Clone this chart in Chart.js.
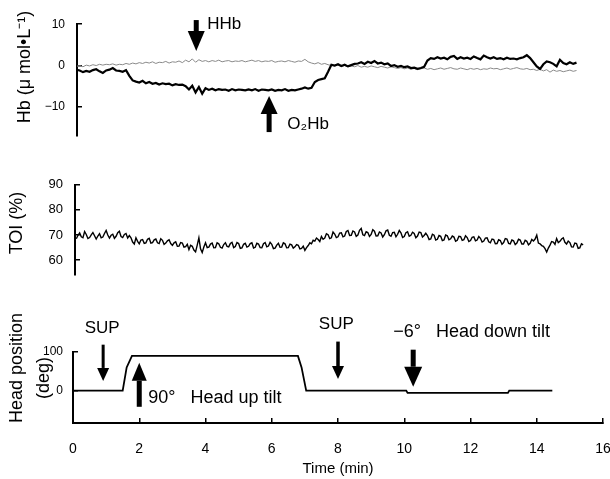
<!DOCTYPE html>
<html>
<head>
<meta charset="utf-8">
<title>Hb, TOI and head position</title>
<script src="https://cdn.jsdelivr.net/npm/chart.js@4.4.1/dist/chart.umd.min.js"></script>
<style>
  html, body { margin: 0; padding: 0; background: #fff; }
  #wrap { position: relative; width: 610px; height: 479px; }
  canvas { position: absolute; left: 0; }
</style>
</head>
<body>
<div id="wrap">
  <canvas id="hbChart" width="610" height="160" style="top:0"></canvas>
  <canvas id="toiChart" width="610" height="140" style="top:160px"></canvas>
  <canvas id="tiltChart" width="610" height="179" style="top:300px"></canvas>
</div>
<script>
// sample grid of the recorded traces (min)
const hbStart = 0.1, hbStep = 0.1;
const toiStart = 0.1, toiStep = 0.05;

// O2Hb, umol/L (thick trace)
const o2hbValues = [
  -1.0, -1.2, -1.6, -1.3, -1.5, -1.1, -0.9, -1.4, -1.8, -1.2,
  -1.0, -0.6, -1.2, -1.3, -1.5, -1.1, -2.5, -3.6,
  -3.9, -4.1, -3.7, -4.3, -4.0, -4.4, -4.2, -4.6, -4.3, -4.5, -4.4, -4.8, -4.5, -4.7, -4.6,
  -5.0, -5.8, -4.9, -6.5, -5.2, -6.8,
  -5.5, -5.9, -5.6, -6.0, -5.7, -5.9, -5.8, -6.1, -5.7, -6.0, -5.8, -5.9, -6.0,
  -5.8, -6.0, -5.7, -6.1, -5.8, -5.9, -6.0, -5.8, -6.1, -5.9, -6.0, -5.7, -6.1, -5.9, -6.0, -5.8, -5.6,
  -5.3, -5.6, -5.4,
  -4.0, -3.5, -3.3, -3.1, -1.5, 0.2, 0.0,
  0.3, -0.1, 0.2, -0.2, 0.1, 0.4,
  0.5, 0.8, 0.4, 0.9, 0.6, 1.1, 0.5, 0.7, 0.3, 0.5,
  -0.1, 0.1, -0.3, -0.1, -0.4, -0.2, -0.6, -0.5, -0.8, -0.6, -0.3,
  1.2, 1.8,
  1.6, 2.0, 1.7, 1.9, 1.5, 2.1, 2.3, 1.6, 2.0, 1.7, 1.9, 1.6, 2.2, 1.8,
  1.5, 2.4, 2.0, 1.7, 2.0, 1.6, 1.8, 1.5, 1.9, 1.6, 1.7, 1.5, 1.8, 2.0,
  2.5, 1.8, 0.8, -0.2, -0.8, 0.3, 1.0, 0.8, 0.4, -0.2, 1.4, 0.6, 0.3, 0.8, 0.4, 0.7
];

// HHb, umol/L (thin grey trace)
const hhbValues = [
  -0.2, 0.0, -0.3, 0.1, -0.1, 0.2, 0.0, 0.3, 0.1, 0.3,
  0.2, 0.4, 0.1, 0.3, 0.2, 0.5, 0.3, 0.6, 0.4, 0.7,
  0.5, 0.8, 0.6, 0.9, 0.5, 0.8, 0.7, 1.0, 0.6, 0.9,
  0.8, 1.1, 0.7, 1.3, 0.9, 1.6, 0.8, 1.4, 1.0, 1.2,
  0.9, 1.2, 1.0, 1.3, 0.9, 1.1, 1.2, 0.9, 1.1, 1.0,
  1.2, 0.9, 1.1, 1.3, 1.0, 1.2, 0.9, 1.1, 1.0, 1.2,
  0.8, 1.0, 1.1, 0.9, 1.2, 1.0, 0.8, 1.1, 1.0, 1.5,
  0.9, 0.6, 0.4, 0.7, 0.3, 0.5, 0.2, 0.0, -0.1, 0.1,
  -0.2, 0.0, -0.3, -0.1, -0.3, 0.0, -0.4, -0.2, -0.4, -0.1,
  -0.3, -0.5, -0.2, -0.4, -0.6, -0.3, -0.5, -0.7, -0.5, -0.8,
  -0.6, -0.9, -0.7, -1.0, -0.8, -0.6, -0.9, -0.7, -1.0, -0.8,
  -0.6, -0.9, -0.7, -0.5, -0.8, -0.9, -0.6, -0.8, -1.0, -0.7,
  -0.9, -0.7, -1.0, -0.8, -0.9, -0.6, -0.8, -0.7, -1.0, -0.8,
  -0.6, -0.9, -0.7, -0.5, -0.8, -0.9, -0.7, -1.0, -0.9, -1.2,
  -0.9, -1.3, -1.0, -1.6, -1.1, -1.4, -1.2, -1.5, -1.3, -1.1, -1.4, -1.2
];

// tissue oxygenation index, %
const toiValues = [
  68.5, 69.9, 70.8, 69.3, 68.9, 71.4, 70.2, 68.6, 69.0, 70.1, 71.0, 69.7, 68.4, 69.6, 70.5, 68.9,
  69.2, 70.6, 71.8, 70.0, 68.8, 69.9, 70.3, 68.7, 69.5, 70.9, 71.5, 69.4, 69.0, 70.2, 70.6, 68.8,
  69.8, 68.9,
  67.2, 66.4, 68.9, 67.5, 66.5, 68.0, 68.2, 66.7, 66.9, 68.3, 68.7, 66.8,
  67.0, 68.1, 68.4, 66.9, 66.6, 68.5, 67.9, 66.3, 66.8, 67.7, 68.1, 66.6,
  65.9, 66.9, 67.3, 65.5, 65.6, 67.0, 66.8, 65.2, 65.4, 66.3,
  64.2, 65.9, 65.5, 64.0, 63.3, 66.0, 68.9, 64.5, 63.0, 65.2, 66.9, 65.0,
  65.2, 66.4, 66.8, 64.9, 65.0, 66.9, 66.5, 65.1, 64.8, 66.2, 66.9, 65.5,
  65.3, 66.6, 67.1, 65.0, 65.4, 67.0, 66.6, 64.7, 64.9, 66.3, 66.7, 65.2,
  65.5, 66.6, 66.9, 64.8, 65.1, 66.7, 66.4, 65.0, 64.9, 66.5, 67.0, 65.3,
  65.6, 67.1, 66.3, 64.6, 64.8, 66.0, 66.7, 65.1, 65.2, 66.9, 66.5, 64.9,
  65.0, 66.4, 66.1, 64.8, 65.3, 66.2, 65.9, 64.5, 64.7, 65.6, 63.9, 65.0,
  65.8, 66.9, 66.5, 67.9, 67.6, 68.8, 68.2, 67.4, 69.4, 68.3,
  68.8, 70.5, 70.1, 68.6, 68.9, 71.2, 70.4, 69.0, 69.3, 70.8,
  70.9, 69.3, 69.6, 71.4, 71.8, 69.8, 69.9, 71.6, 71.2, 69.5, 70.0, 71.9, 72.6,
  70.1, 69.8, 71.3, 71.0, 69.4, 70.2, 72.1, 71.5, 69.6, 69.7, 71.2, 70.8,
  69.2, 70.1, 71.7, 72.0, 69.9, 69.5, 71.0, 71.1, 69.3, 70.3, 71.8, 70.9,
  69.0, 69.4, 70.9, 71.3, 69.5, 69.9, 71.1, 70.6, 68.9, 69.6, 71.2, 71.0, 69.2, 69.8, 70.7,
  69.8, 68.2, 68.4, 70.3, 69.9, 68.0, 68.3, 69.8, 69.5, 67.8, 68.0, 70.0, 69.7,
  68.1, 68.5, 69.6, 69.2, 67.5, 67.9, 69.5, 69.4, 67.9, 68.1, 69.7, 69.0, 67.4,
  67.8, 69.1, 69.3, 67.7, 68.0, 69.4, 68.7, 67.2, 67.6, 68.8, 68.9, 67.3,
  66.9, 68.4, 68.2, 66.5, 66.6, 68.1, 67.8, 66.3, 67.0, 68.6, 68.4, 66.7, 66.5, 68.0, 67.7, 66.2,
  66.8, 68.3, 68.0, 66.4, 66.4, 67.9, 67.5, 66.1, 66.7, 68.2, 67.6, 68.4, 70.0, 66.8, 66.5, 65.8,
  65.5, 64.6, 63.2, 64.8, 66.0, 67.4, 67.2, 66.3, 68.6, 67.0, 67.5, 68.4, 68.9,
  67.1, 66.4, 67.6, 67.0, 65.3, 65.2, 66.8, 66.6, 64.7, 64.9, 66.5, 66.1
];

// head position (deg)
const tiltTimes = [0, 1.5, 1.62, 1.78, 6.79, 6.9, 7.04, 10.06, 10.1, 13.13, 13.17, 14.47];
const tiltValues = [0, 0, 60, 90, 90, 60, 0, 0, -6, -6, 0, 0];

const hbTicks = [-10, 0, 10];
const toiTicks = [60, 70, 80, 90];
const tiltTicks = [0, 100];
const timeTicks = [0, 2, 4, 6, 8, 10, 12, 14, 16];

Chart.defaults.font.family = "'Liberation Sans', Arial, sans-serif";
Chart.defaults.color = '#000';

function sampled(values, start, step) {
  return values.map((v, i) => ({ x: start + i * step, y: v }));
}

// arrows, free labels and rotated axis titles
const notesPlugin = {
  id: 'notes',
  afterDatasetsDraw(chart, args, opts) {
    const ctx = chart.ctx;
    const xs = chart.scales.x, ys = chart.scales.y;
    ctx.save();
    ctx.fillStyle = '#000';
    (opts.arrows || []).forEach(a => {
      const x = xs.getPixelForValue(a.t);
      const yTail = ys.getPixelForValue(a.from);
      const yTip = ys.getPixelForValue(a.to);
      const dir = yTip > yTail ? 1 : -1;
      const yBase = yTip - dir * a.head;
      ctx.fillRect(x - a.shaft / 2, Math.min(yTail, yBase), a.shaft, Math.abs(yBase - yTail));
      ctx.beginPath();
      ctx.moveTo(x - a.width / 2, yBase);
      ctx.lineTo(x + a.width / 2, yBase);
      ctx.lineTo(x, yTip);
      ctx.closePath();
      ctx.fill();
    });
    (opts.labels || []).forEach(l => {
      ctx.font = l.font;
      ctx.textAlign = l.align || 'left';
      ctx.textBaseline = 'middle';
      ctx.fillText(l.text, xs.getPixelForValue(l.t), ys.getPixelForValue(l.v));
    });
    (opts.titles || []).forEach(ti => {
      ctx.save();
      ctx.translate(ti.x, ti.y);
      ctx.rotate(-Math.PI / 2);
      ctx.font = ti.font;
      ctx.textAlign = 'center';
      ctx.textBaseline = 'middle';
      ctx.fillText(ti.text, 0, 0);
      ctx.restore();
    });
    ctx.restore();
  }
};

function yAxis(min, max, ticks, width, fontSize, pad) {
  return {
    min: min,
    max: max,
    afterBuildTicks: s => { s.ticks = ticks.map(v => ({ value: v })); },
    afterFit: s => { s.width = width; },
    border: { color: '#000', width: 2 },
    grid: { drawOnChartArea: false, color: '#000', lineWidth: 1.5, tickLength: -5 },
    ticks: {
      color: '#000',
      padding: pad,
      font: { size: fontSize },
      callback: v => v < 0 ? '\u2212' + Math.abs(v) : String(v)
    }
  };
}

function hiddenX(min) {
  return { type: 'linear', min: min, max: 16, display: false };
}

const common = {
  responsive: false,
  animation: false,
  events: [],
  plugins: { legend: { display: false }, tooltip: { enabled: false } }
};

// Hb panel
new Chart(document.getElementById('hbChart'), {
  type: 'line',
  data: {
    datasets: [
      { data: sampled(o2hbValues, hbStart, hbStep), borderColor: '#000', borderWidth: 2.2, pointRadius: 0 },
      { data: sampled(hhbValues, hbStart, hbStep), borderColor: '#8a8a8a', borderWidth: 1, pointRadius: 0 }
    ]
  },
  options: Object.assign({}, common, {
    layout: { autoPadding: false, padding: { top: 15, bottom: 13, right: 7, left: 0 } },
    scales: { x: hiddenX(0.12), y: yAxis(-17, 10, hbTicks, 77, 12, 17) },
    plugins: Object.assign({}, common.plugins, {
      notes: {
        arrows: [
          { t: 3.72, from: 11, to: 3.5, shaft: 5, width: 17, head: 20 },
          { t: 5.92, from: -16.1, to: -7.35, shaft: 5, width: 17, head: 18 }
        ],
        labels: [
          { t: 4.05, v: 10, text: 'HHb', font: '17px "Liberation Sans", Arial' },
          { t: 6.47, v: -14.3, text: 'O\u2082Hb', font: '17px "Liberation Sans", Arial' }
        ],
        titles: [
          { x: 25, y: 67, text: 'Hb (\u03bc mol\u2022L\u207b\u00b9)', font: '18px "Liberation Sans", Arial' }
        ]
      }
    })
  }),
  plugins: [notesPlugin]
});

// TOI panel
new Chart(document.getElementById('toiChart'), {
  type: 'line',
  data: {
    datasets: [
      { data: sampled(toiValues, toiStart, toiStep), borderColor: '#000', borderWidth: 1.4, pointRadius: 0 }
    ]
  },
  options: Object.assign({}, common, {
    layout: { autoPadding: false, padding: { top: 11, bottom: 13, right: 7, left: 0 } },
    scales: { x: hiddenX(0.06), y: yAxis(54, 90, toiTicks, 75, 13, 17) },
    plugins: Object.assign({}, common.plugins, {
      notes: {
        titles: [
          { x: 17.5, y: 63, text: 'TOI (%)', font: '18px "Liberation Sans", Arial' }
        ]
      }
    })
  }),
  plugins: [notesPlugin]
});

// head position panel
new Chart(document.getElementById('tiltChart'), {
  type: 'line',
  data: {
    datasets: [
      {
        data: tiltTimes.map((t, i) => ({ x: t, y: tiltValues[i] })),
        borderColor: '#000', borderWidth: 1.8, pointRadius: 0
      }
    ]
  },
  options: Object.assign({}, common, {
    layout: { autoPadding: false, padding: { top: 52, bottom: 0, right: 7, left: 0 } },
    scales: {
      x: {
        type: 'linear',
        min: 0,
        max: 16,
        afterBuildTicks: s => { s.ticks = timeTicks.map(v => ({ value: v })); },
        afterFit: s => {
          s.height = 56;
          // labels sit far below the axis; keep that gap out of the side padding
          s.paddingLeft = 4;
          s.paddingRight = 7;
        },
        border: { color: '#000', width: 2 },
        grid: { drawOnChartArea: false, color: '#000', lineWidth: 1.5, tickLength: -5 },
        ticks: { color: '#000', padding: 23, maxRotation: 0, font: { size: 14 } },
        title: { display: true, text: 'Time (min)', font: { size: 15 }, padding: { top: 0, bottom: 1 } }
      },
      y: yAxis(-84, 100, tiltTicks, 73, 12, 15)
    },
    plugins: Object.assign({}, common.plugins, {
      notes: {
        arrows: [
          { t: 0.91, from: 119, to: 25, shaft: 3, width: 12, head: 13 },
          { t: 2.0, from: -42, to: 72, shaft: 5, width: 15, head: 18 },
          { t: 8.0, from: 127, to: 30, shaft: 3.5, width: 12, head: 13 },
          { t: 10.27, from: 106, to: 10, shaft: 5, width: 18, head: 20 }
        ],
        labels: [
          { t: 0.88, v: 161, text: 'SUP', align: 'center', font: '17px "Liberation Sans", Arial' },
          { t: 2.27, v: -19, text: '90\u00b0   Head up tilt', font: '18px "Liberation Sans", Arial' },
          { t: 7.95, v: 171, text: 'SUP', align: 'center', font: '17px "Liberation Sans", Arial' },
          { t: 9.67, v: 153, text: '\u22126\u00b0   Head down tilt', font: '18px "Liberation Sans", Arial' }
        ],
        titles: [
          { x: 17, y: 68, text: 'Head position', font: '18px "Liberation Sans", Arial' },
          { x: 44, y: 78, text: '(deg)', font: '18px "Liberation Sans", Arial' }
        ]
      }
    })
  }),
  plugins: [notesPlugin]
});
</script>
</body>
</html>
